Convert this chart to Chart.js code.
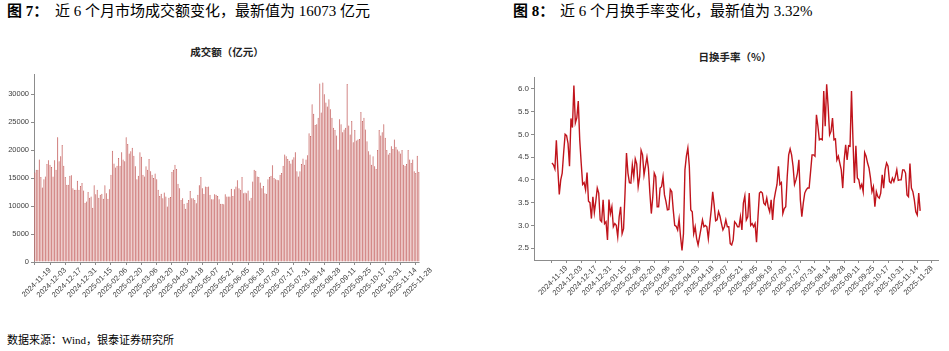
<!DOCTYPE html>
<html>
<head>
<meta charset="utf-8">
<script src="https://cdn.jsdelivr.net/npm/chart.js@4.4.1/dist/chart.umd.min.js"></script>
<style>
  body { margin: 0; width: 949px; height: 351px; background: #fff; overflow: hidden; position: relative; }
  .txt { position: absolute; white-space: nowrap; color: #000; }
  .fig { font: bold 15px "Liberation Serif", "Noto Sans CJK SC"; line-height: 18px; top: 2px; }
  .head { font: 15px "Liberation Serif", "Noto Sans CJK SC"; line-height: 18px; top: 2px; }
  .sub { font: bold 10.5px "Noto Sans CJK SC"; line-height: 12px; transform: translateX(-50%); color: #222; }
  .src { font: 11px "Liberation Serif", "Noto Sans CJK SC"; line-height: 14px; left: 7px; top: 333px; }
  .box { position: absolute; }
</style>
</head>
<body>
<div class="txt fig" style="left:7px">图 7：</div>
<div class="txt head" style="left:55px">近 6 个月市场成交额变化，最新值为 16073 亿元</div>
<div class="txt fig" style="left:513px">图 8：</div>
<div class="txt head" style="left:560px">近 6 个月换手率变化，最新值为 3.32%</div>
<div class="txt sub" style="left:227px; top:46px">成交额（亿元）</div>
<div class="txt sub" style="left:735px; top:51px">日换手率（%）</div>
<div class="box" style="left:0; top:60px; width:450px; height:260px"><canvas id="bar"></canvas></div>
<div class="box" style="left:480px; top:60px; width:469px; height:260px"><canvas id="line"></canvas></div>
<div class="txt src">数据来源：Wind，银泰证券研究所</div>
<script>
// x axis labels, one every 10 trading days (first tick, 2024-11-05, is unlabeled)
var tickLabels = ['2024-11-19','2024-12-03','2024-12-17','2024-12-31','2025-01-15','2025-02-06',
  '2025-02-20','2025-03-06','2025-03-20','2025-04-03','2025-04-18','2025-05-07','2025-05-21',
  '2025-06-05','2025-06-19','2025-07-03','2025-07-17','2025-07-31','2025-08-14','2025-08-28',
  '2025-09-11','2025-09-25','2025-10-17','2025-10-31','2025-11-14','2025-11-28'];

// 成交额（亿元）, daily
var turnover = [
  16000,16500,16500,18300,15200,13300,14800,15300,17500,18200,
  17400,17000,15300,18200,16500,22300,18000,18900,20900,17200,
  15200,13800,13800,15400,15500,13200,12900,12900,14500,12900,
  13600,14100,12800,10600,10800,12500,11500,11700,9700,13700,
  12100,12900,11500,12000,12200,11300,13700,12300,11300,13000,
  15600,19900,17600,16900,17200,18600,17200,19600,18300,18000,
  22300,21100,19400,19800,20400,19000,17100,14800,15400,19600,
  18800,15600,15300,17100,16500,18400,16200,15600,15000,15800,
  14800,12900,11800,12200,11400,12400,11700,9900,11500,11600,
  16100,16500,17400,16600,14000,13200,11100,11400,10400,9500,
  10600,11100,12700,11400,11400,11100,10500,12000,13700,15200,
  13200,12200,13500,13400,13500,12000,11200,11200,12100,12000,
  11800,11200,10400,10400,10300,12100,11700,11700,11700,13100,
  11800,13000,13500,14600,13200,12900,15200,12300,12400,12300,
  12800,11000,11500,14400,16500,16300,15300,15200,14200,13200,
  13600,12300,12200,14800,15200,15400,17300,15000,14800,14700,
  14600,15600,15900,17200,19200,18900,18400,18100,17600,18300,
  18700,19600,16200,15300,16200,17500,18500,17400,18300,19100,
  23000,22500,28200,26500,24500,24600,25800,31900,26700,32100,
  30000,28500,27800,29100,27300,25800,24000,23600,22600,20100,
  25500,24600,23200,23700,24000,31800,24400,22800,25200,21400,
  23600,21700,21900,22000,26800,25200,25800,23700,21600,19800,
  19200,17400,18900,17100,16600,20000,23600,22600,23200,24600,
  22200,20000,19200,19500,20700,20200,21900,20600,20100,19800,
  19400,20000,17400,17200,17500,20000,18300,17700,18300,16200,
  15900,19000,16073];

// 日换手率（%）, daily
var turnoverRate = [
  4.37,4.33,4.24,4.87,4.25,3.68,4.00,4.15,4.60,5.00,
  4.97,4.80,4.30,5.35,5.15,6.07,5.25,5.36,5.73,4.88,
  4.37,3.90,3.94,3.78,4.16,3.53,3.50,3.15,3.63,3.28,
  3.53,3.82,3.71,3.12,3.08,3.56,3.04,3.08,2.68,3.57,
  3.26,3.41,2.97,3.04,3.00,2.75,3.19,3.41,2.82,2.93,
  3.71,4.59,4.15,3.94,3.93,4.33,4.07,4.46,4.35,3.85,
  4.07,4.65,4.55,4.11,4.31,4.50,4.26,3.71,3.26,3.63,
  4.15,4.07,3.41,3.41,3.82,3.85,4.07,3.67,3.53,3.34,
  3.35,3.79,3.74,3.34,3.00,2.98,2.90,3.14,2.75,2.45,
  2.82,4.22,4.52,4.70,4.30,3.34,3.30,2.82,2.97,2.71,
  2.57,2.75,2.93,3.12,2.97,3.00,2.97,2.71,3.04,3.34,
  3.74,3.45,3.10,3.12,3.30,3.20,
  3.04,2.90,2.97,3.12,2.97,2.97,2.60,2.57,2.68,3.08,
  3.04,2.97,2.97,3.19,2.90,3.49,3.65,3.12,3.19,3.71,
  3.00,3.04,2.97,3.04,2.63,3.19,3.71,3.74,3.71,3.49,
  3.45,3.60,3.41,3.30,3.56,3.12,3.56,3.74,3.90,4.30,
  3.90,3.94,3.26,3.37,3.41,4.07,4.55,4.68,4.55,4.30,
  3.90,4.00,4.15,4.44,3.56,3.19,3.49,3.71,3.78,3.82,
  3.82,4.18,4.55,4.55,4.52,5.43,5.18,4.88,4.90,4.88,
  5.95,5.18,6.10,5.62,4.99,5.07,5.36,4.88,4.90,4.44,
  4.52,4.37,4.22,3.82,4.44,4.77,4.44,4.75,4.74,5.95,
  4.88,3.93,4.75,4.04,4.00,3.82,3.90,3.74,4.60,4.52,
  4.37,4.26,4.04,3.74,3.85,3.41,3.74,3.63,3.60,3.71,
  4.11,3.82,4.22,4.37,4.30,3.96,3.93,4.04,3.96,4.07,
  4.22,3.99,4.00,4.00,4.22,4.22,4.15,3.67,3.63,4.36,
  3.82,3.74,3.56,3.30,3.23,3.71,3.32];

var volTicks = [0, 5000, 10000, 15000, 20000, 25000, 30000];
var rateTicks = [2.5, 3.0, 3.5, 4.0, 4.5, 5.0, 5.5, 6.0];

var axisColor = '#8c8c8c';
var tickFont = { family: 'Liberation Sans, Arial', size: 7.5 };
var tickColor = '#404040';

function xTickValues() {
  var out = [0];
  for (var k = 0; k < tickLabels.length; k++) out.push((k + 1) * 10);
  return out;
}
function xLabel(value) {
  var k = Math.round(value / 10);
  return k === 0 ? '' : tickLabels[k - 1];
}

// bars end before the last labelled tick: draw the x axis line only under the bars
var partialAxis = {
  id: 'partialAxis',
  afterDraw: function(chart) {
    var a = chart.chartArea, ctx = chart.ctx;
    var end = chart.scales.x.getPixelForValue(turnover.length - 0.5);
    ctx.save();
    ctx.strokeStyle = axisColor;
    ctx.lineWidth = 1;
    ctx.beginPath();
    ctx.moveTo(a.left, Math.round(a.bottom) + 0.5);
    ctx.lineTo(end, Math.round(a.bottom) + 0.5);
    ctx.stroke();
    ctx.restore();
  }
};

new Chart(document.getElementById('bar'), {
  type: 'bar',
  data: {
    datasets: [{
      data: turnover.map(function(v, i) { return { x: i, y: v }; }),
      backgroundColor: '#d69c9c',
      borderColor: '#c0504d',
      borderWidth: 0.5,
      borderSkipped: 'bottom',
      barPercentage: 0.85,
      categoryPercentage: 1.0
    }]
  },
  options: {
    responsive: true,
    maintainAspectRatio: false,
    animation: false,
    layout: { padding: { top: 14, right: 19, left: 0, bottom: 0 } },
    plugins: { legend: { display: false }, tooltip: { enabled: false } },
    scales: {
      x: {
        type: 'linear',
        min: -0.5,
        max: 260,
        offset: false,
        afterBuildTicks: function(s) { s.ticks = xTickValues().map(function(v) { return { value: v }; }); },
        afterFit: function(s) { s.height = 58; },
        border: { display: false },
        grid: {
          offset: false,
          drawOnChartArea: false,
          tickLength: 3,
          color: function(c) { return c.tick && c.tick.value > turnover.length ? 'rgba(0,0,0,0)' : axisColor; }
        },
        ticks: {
          autoSkip: false,
          minRotation: 45,
          maxRotation: 45,
          padding: 1,
          font: tickFont,
          color: tickColor,
          callback: function(v) { return xLabel(v); }
        }
      },
      y: {
        min: 0,
        max: 33600,
        afterBuildTicks: function(s) { s.ticks = volTicks.map(function(v) { return { value: v }; }); },
        afterFit: function(s) { s.width = 34; },
        border: { color: axisColor },
        grid: { drawOnChartArea: false, tickLength: 3, color: axisColor },
        ticks: { font: tickFont, color: tickColor, padding: 2, callback: function(v) { return String(v); } }
      }
    }
  },
  plugins: [partialAxis]
});

new Chart(document.getElementById('line'), {
  type: 'line',
  data: {
    datasets: [{
      data: turnoverRate.map(function(v, i) { return { x: i, y: v }; }),
      borderColor: '#c0141c',
      borderWidth: 1.4,
      pointRadius: 0,
      tension: 0,
      fill: false
    }]
  },
  options: {
    responsive: true,
    maintainAspectRatio: false,
    animation: false,
    layout: { padding: { top: 17, right: 11, left: 0, bottom: 0 } },
    plugins: { legend: { display: false }, tooltip: { enabled: false } },
    scales: {
      x: {
        type: 'linear',
        min: -12.3,
        max: 264.2,
        afterBuildTicks: function(s) { s.ticks = xTickValues().map(function(v) { return { value: v }; }); },
        afterFit: function(s) { s.height = 60; },
        border: { color: axisColor },
        grid: { drawOnChartArea: false, tickLength: 3, color: axisColor },
        ticks: {
          autoSkip: false,
          minRotation: 45,
          maxRotation: 45,
          padding: 1,
          font: tickFont,
          color: tickColor,
          callback: function(v) { return xLabel(v); }
        }
      },
      y: {
        min: 2.24,
        max: 6.26,
        afterBuildTicks: function(s) { s.ticks = rateTicks.map(function(v) { return { value: v }; }); },
        afterFit: function(s) { s.width = 54; },
        border: { color: axisColor },
        grid: { drawOnChartArea: false, tickLength: 3, color: axisColor },
        ticks: { font: { family: 'Liberation Sans, Arial', size: 8 }, color: tickColor, padding: 2,
          callback: function(v) { return v.toFixed(1); } }
      }
    }
  }
});
</script>
</body>
</html>
